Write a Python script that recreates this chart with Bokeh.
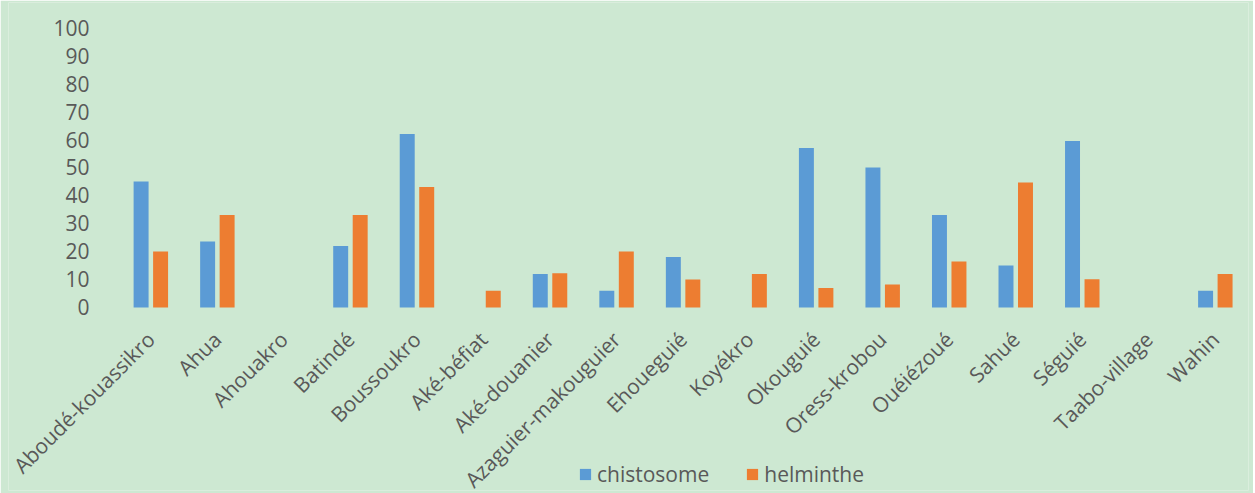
from bokeh.plotting import figure
from bokeh.models import ColumnDataSource, Range1d, Legend, LegendItem, FixedTicker
from bokeh.transform import dodge
from bokeh.embed import file_html
from bokeh.resources import INLINE
import math

categories = ["Aboudé-kouassikro", "Ahua", "Ahouakro", "Batindé", "Boussoukro",
              "Aké-béfiat", "Aké-douanier", "Azaguier-makouguier", "Ehoueguié",
              "Koyékro", "Okouguié", "Oress-krobou", "Ouéiézoué", "Sahué",
              "Séguié", "Taabo-village", "Wahin"]
chistosome = [45, 23.6, 0, 22, 62, 0, 12, 6, 18, 0, 57, 50, 33, 15, 59.5, 0, 6]
helminthe = [20, 33, 0, 33, 43, 6, 12.2, 20, 10, 12, 7, 8.2, 16.4, 44.6, 10.1, 0, 12]
y_ticks = [0, 10, 20, 30, 40, 50, 60, 70, 80, 90, 100]

BG = "#cde8d2"
TXT = "#595959"
FONT = "Open Sans"

idx = list(range(len(categories)))
src = ColumnDataSource(dict(i=idx, cat=categories, s=chistosome, h=helminthe))

# numeric category index on x; the frame spans the whole canvas so that the
# rotated labels, the y labels and the legend (drawn inside the frame) are not clipped
p = figure(width=1253, height=493, output_backend="svg", toolbar_location=None,
           x_range=Range1d(-2.138, len(categories) - 0.5),
           y_range=Range1d(-65.36, 108.93),
           min_border_left=8, min_border_right=5, min_border_top=2, min_border_bottom=3)
p.background_fill_color = BG
p.border_fill_color = BG
p.outline_line_color = None
p.grid.visible = False

r1 = p.vbar(x=dodge("i", -0.145), top="s", width=0.225, source=src,
            fill_color="#5b9bd5", line_color=None)
r2 = p.vbar(x=dodge("i", 0.148), top="h", width=0.225, source=src,
            fill_color="#ed7d31", line_color=None)

for ax in (p.xaxis[0], p.yaxis[0]):
    ax.axis_line_color = None
    ax.major_tick_line_color = None
    ax.minor_tick_line_color = None
    ax.major_label_text_color = TXT
    ax.major_label_text_font = FONT

xa = p.xaxis[0]
xa.fixed_location = 0
xa.ticker = FixedTicker(ticks=idx)
xa.major_label_overrides = {i: c for i, c in zip(idx, categories)}
xa.major_label_text_font_size = "21px"
xa.major_label_orientation = math.pi / 4
xa.major_label_standoff = 22

ya = p.yaxis[0]
ya.fixed_location = -0.5
ya.ticker = FixedTicker(ticks=y_ticks)
ya.major_label_text_font_size = "21px"
ya.major_label_standoff = 22

legend = Legend(items=[LegendItem(label="chistosome", renderers=[r1]),
                       LegendItem(label="helminthe", renderers=[r2])],
                location=(570, 2), orientation="horizontal")
legend.background_fill_alpha = 0
legend.border_line_color = None
legend.padding = 0
legend.margin = 0
legend.glyph_width = 14
legend.glyph_height = 14
legend.label_standoff = 5
legend.spacing = 36
legend.label_text_font = FONT
legend.label_text_font_size = "21px"
legend.label_text_color = TXT
legend.label_height = 18
p.add_layout(legend, "center")

open("out.html", "w").write(file_html(p, INLINE))
